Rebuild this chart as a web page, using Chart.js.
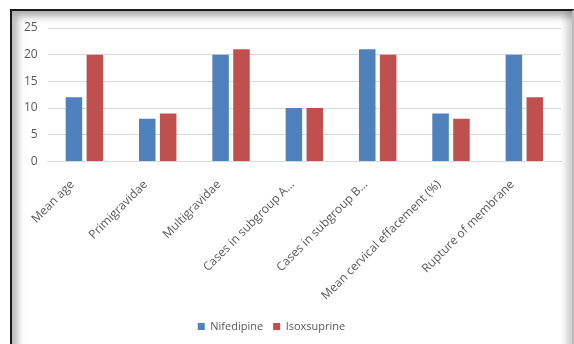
<!DOCTYPE html>
<html><head><meta charset="utf-8">
<script src="https://cdn.jsdelivr.net/npm/chart.js@4/dist/chart.umd.min.js"></script>
<style>
html,body{margin:0;padding:0;background:#fff;}
#wrap{position:relative;width:574px;height:344px;overflow:hidden;}
#frame{position:absolute;left:10px;top:9px;width:560px;height:340px;border-left:2px solid #1a1a1a;border-top:2px solid #1a1a1a;border-right:3px solid #bbb;box-shadow:inset 6px 6px 7px rgba(0,0,0,0.28), inset -6px 0 6px rgba(0,0,0,0.18);background:#fff;}
#c{position:absolute;left:0;top:0;}
</style></head>
<body><div id="wrap"><div id="frame"></div><canvas id="c" width="574" height="344"></canvas></div>
<script>
const categories = ["Mean age","Primigravidae","Multigravidae","Cases in subgroup A…","Cases in subgroup B…","Mean cervical effacement (%)","Rupture of membrane"];
const nifedipine = [12, 8, 20, 10, 21, 9, 20];
const isoxsuprine = [20, 9, 21, 10, 20, 8, 12];
const seriesNames = ["Nifedipine","Isoxsuprine"];
const yTicks = [0,5,10,15,20,25];

const font = "'Open Sans', 'Liberation Sans', sans-serif";
const legendShift = {
  id: 'legendShift',
  afterLayout(chart) {
    const lg = chart.legend;
    if (lg) { lg.left -= 16; lg.right -= 16; }
  }
};
new Chart(document.getElementById('c'), {
  type: 'bar',
  data: {
    labels: categories,
    datasets: [
      {label: seriesNames[0], data: nifedipine, backgroundColor: '#4f81bd', categoryPercentage: 0.57, barPercentage: 0.79},
      {label: seriesNames[1], data: isoxsuprine, backgroundColor: '#c0504d', categoryPercentage: 0.57, barPercentage: 0.79}
    ]
  },
  plugins: [legendShift],
  options: {
    responsive: false,
    animation: false,
    layout: {padding: {left: 14, right: 13, top: 28, bottom: 2}},
    plugins: {
      tooltip: {enabled: false},
      legend: {
        position: 'bottom',
        labels: {boxWidth: 7, boxHeight: 7, color: '#595959', font: {family: font, size: 11}, padding: 10}
      }
    },
    scales: {
      x: {
        grid: {display: false},
        border: {color: '#d9d9d9'},
        ticks: {color: '#595959', font: {family: font, size: 12}, minRotation: 45, maxRotation: 45, autoSkip: false, padding: 8, labelOffset: -12}
      },
      y: {
        min: 0, max: 25,
        afterBuildTicks: s => { s.ticks = yTicks.map(v => ({value: v})); },
        grid: {color: '#d9d9d9', drawTicks: false},
        border: {display: false},
        ticks: {color: '#595959', font: {family: font, size: 12}, padding: 10}
      }
    }
  }
});
</script></body></html>
